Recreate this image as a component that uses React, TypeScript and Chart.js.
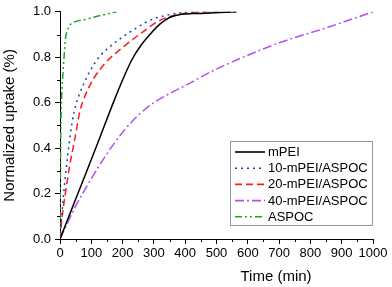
import React, { useEffect, useRef } from "react";
import { Chart, registerables } from "chart.js";

Chart.register(...registerables);

const FONT = "'Liberation Sans', Arial, sans-serif";

const seriesNames = ["mPEI", "10-mPEI/ASPOC", "20-mPEI/ASPOC", "40-mPEI/ASPOC", "ASPOC"];

const mPEITime = [0, 60, 120, 176, 200, 230, 260, 290, 320, 350, 380, 450, 565];
const mPEIValue = [0, 0.21, 0.42, 0.62, 0.7, 0.79, 0.855, 0.905, 0.947, 0.975, 0.987, 0.993, 1.0];

const m10Time = [0, 4, 8.5, 16, 32, 45, 60, 85, 106, 128, 181, 234, 288, 341, 426, 560];
const m10Value = [0, 0.08, 0.15, 0.26, 0.45, 0.56, 0.63, 0.71, 0.763, 0.806, 0.87, 0.92, 0.963, 0.985, 1.0, 1.0];

const m20Time = [0, 5, 16, 32, 48, 64, 80, 107, 145, 202, 266, 320, 394, 457, 560];
const m20Value = [0, 0.075, 0.19, 0.33, 0.445, 0.565, 0.63, 0.705, 0.775, 0.845, 0.913, 0.963, 0.992, 1.0, 1.0];

const m40Time = [0, 50, 100, 150, 200, 250, 300, 350, 400, 469, 543, 620, 703, 863, 1000];
const m40Value = [0, 0.145, 0.265, 0.375, 0.47, 0.545, 0.6, 0.64, 0.675, 0.727, 0.775, 0.82, 0.865, 0.935, 1.0];

const aspocTime = [0, 1, 2, 3, 5, 9, 13, 18, 27, 48, 80, 112, 150, 181];
const aspocValue = [0, 0.2, 0.4, 0.52, 0.62, 0.72, 0.8, 0.886, 0.93, 0.956, 0.966, 0.978, 0.99, 1.0];

const xTicksMajor = [0, 100, 200, 300, 400, 500, 600, 700, 800, 900, 1000];
const yTicksMajor = [0, 0.2, 0.4, 0.6, 0.8, 1.0];

const colors = ["#000000", "#1f3fb0", "#ff1a1a", "#b050f0", "#1fa51f"];
const dashes = [[], [2, 4], [7, 4], [9, 3, 2, 3], [7, 3, 2, 3, 2, 3]];

const zip = (xs: number[], ys: number[]) => xs.map((x, i) => ({ x, y: ys[i] }));

const extras = {
  id: "extras",
  afterDraw(chart: any) {
    const ctx = chart.ctx;
    const xs = chart.scales.x;
    const ys = chart.scales.y;
    const ca = chart.chartArea;
    ctx.save();
    // minor ticks
    ctx.strokeStyle = "#000";
    ctx.lineWidth = 1;
    ctx.beginPath();
    for (let v = 50; v < 1000; v += 100) {
      const px = Math.round(xs.getPixelForValue(v)) + 0.5;
      ctx.moveTo(px, ca.bottom);
      ctx.lineTo(px, ca.bottom + 3);
    }
    for (let v = 0.1; v < 1; v += 0.2) {
      const py = Math.round(ys.getPixelForValue(v)) + 0.5;
      ctx.moveTo(ca.left, py);
      ctx.lineTo(ca.left - 3, py);
    }
    ctx.stroke();

    // axis titles
    ctx.fillStyle = "#000";
    ctx.font = `15px ${FONT}`;
    ctx.textAlign = "center";
    ctx.textBaseline = "middle";
    ctx.fillText("Time (min)", 276, 277);
    ctx.save();
    ctx.translate(10, (ca.top + ca.bottom) / 2);
    ctx.rotate(-Math.PI / 2);
    ctx.fillText("Normalized uptake (%)", 0, 0);
    ctx.restore();

    // legend
    const lx = 230.5, ly = 141.5, lw = 142, lh = 84;
    ctx.fillStyle = "#fff";
    ctx.fillRect(lx, ly, lw, lh);
    ctx.strokeStyle = "#8a9aaa";
    ctx.lineWidth = 1;
    ctx.strokeRect(lx, ly, lw, lh);
    ctx.font = `13px ${FONT}`;
    ctx.textAlign = "left";
    ctx.textBaseline = "middle";
    chart.data.datasets.forEach((ds: any, i: number) => {
      const y = 152 + i * 16.2;
      ctx.save();
      ctx.strokeStyle = ds.borderColor;
      ctx.lineWidth = 1.6;
      ctx.setLineDash(ds.borderDash || []);
      ctx.beginPath();
      ctx.moveTo(235, y);
      ctx.lineTo(265, y);
      ctx.stroke();
      ctx.restore();
      ctx.fillStyle = "#000";
      ctx.fillText(ds.label, 268, y + 0.5);
    });
    ctx.restore();
  },
};

export default function App() {
  const ref = useRef<HTMLCanvasElement>(null);
  useEffect(() => {
    const canvas = ref.current!;
    const timeArrays = [mPEITime, m10Time, m20Time, m40Time, aspocTime];
    const valueArrays = [mPEIValue, m10Value, m20Value, m40Value, aspocValue];
    const chart = new Chart(canvas, {
      type: "line",
      data: {
        datasets: seriesNames.map((name, i) => ({
          label: name,
          data: zip(timeArrays[i], valueArrays[i]),
          borderColor: colors[i],
          backgroundColor: colors[i],
          borderDash: dashes[i],
          borderWidth: 1.5,
          pointRadius: 0,
          fill: false,
          cubicInterpolationMode: "monotone" as const,
        })),
      },
      options: {
        animation: false,
        responsive: false,
        maintainAspectRatio: false,
        layout: { padding: { left: 0, right: 19, top: 7, bottom: 0 } },
        plugins: { legend: { display: false }, tooltip: { enabled: false } },
        scales: {
          x: {
            type: "linear",
            min: 0,
            max: 1000,
            afterFit: (s: any) => { s.height = 48; },
            afterBuildTicks: (s: any) => { s.ticks = xTicksMajor.map((v) => ({ value: v })); },
            ticks: {
              font: { family: FONT, size: 13 },
              color: "#000",
              padding: 2,
              maxRotation: 0,
              autoSkip: false,
              callback: (v: any) => String(v),
            },
            grid: { drawOnChartArea: false, drawTicks: true, tickLength: 5, color: "#000" },
            border: { color: "#000", width: 1 },
          },
          y: {
            type: "linear",
            min: 0,
            max: 1,
            afterFit: (s: any) => { s.width = 60; },
            afterBuildTicks: (s: any) => { s.ticks = yTicksMajor.map((v) => ({ value: v })); },
            ticks: {
              font: { family: FONT, size: 13 },
              color: "#000",
              padding: 4,
              callback: (v: any) => Number(v).toFixed(1),
            },
            grid: { drawOnChartArea: false, drawTicks: true, tickLength: 5, color: "#000" },
            border: { color: "#000", width: 1 },
          },
        },
      },
      plugins: [extras],
    });
    return () => chart.destroy();
  }, []);
  return (
    <div style={{ position: "fixed", left: 0, top: 0, width: 392, height: 287, background: "#fff" }}>
      <canvas ref={ref} width={392} height={287} />
    </div>
  );
}
